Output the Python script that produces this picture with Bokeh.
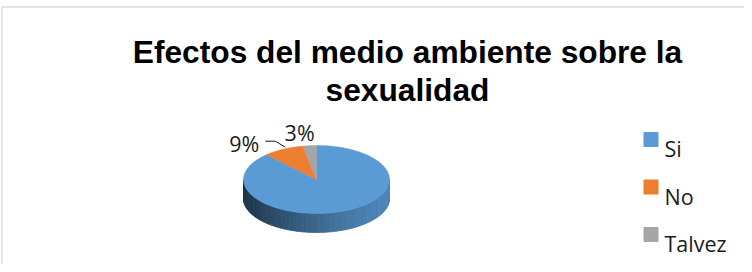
import numpy as np
from bokeh.plotting import figure
from bokeh.models import Range1d, Label, BoxAnnotation
from bokeh.embed import file_html
from bokeh.resources import INLINE

# ---- data ----
title_lines = ["Efectos del medio ambiente sobre la", "sexualidad"]
categories = ["Si", "No", "Talvez"]
percent = [88, 9, 3]
colors = ["#5B9BD5", "#ED7D31", "#A5A5A5"]

# ---- layout ----
W, H = 744, 264
p = figure(width=W, height=H, output_backend="svg", toolbar_location=None,
           x_range=Range1d(0, W), y_range=Range1d(0, H), min_border=0)
p.axis.visible = False
p.grid.visible = False
p.outline_line_color = None
p.background_fill_color = "white"
p.border_fill_color = "white"

# chart area border (only top and left visible in the window)
p.add_layout(BoxAnnotation(left=1.5, right=900, top=257.5, bottom=-100,
                           fill_alpha=0, line_color="#A6A6A6", line_width=2))

# title
for i, t in enumerate(title_lines):
    p.add_layout(Label(x=407, y=213 - 38 * i, text=t, text_align="center",
                       text_baseline="alphabetic", text_font="Liberation Sans",
                       text_font_style="bold", text_font_size="31.7px",
                       text_color="#000000"))

# pie geometry (screen-like data units)
cx, cy, rx, ry, depth = 316, 85, 73, 34, 19
vals = np.array(percent, dtype=float)
frac = vals / vals.sum()
cum = np.concatenate([[0], np.cumsum(frac)])
a_start = 90 - 360 * cum[:-1]
a_end = 90 - 360 * cum[1:]


def slice_of(angle_deg):
    d = ((90 - angle_deg) % 360) / 360.0
    return int(np.searchsorted(cum[1:], d, side="right").clip(0, len(vals) - 1))


def scale_hex(h, f):
    r, g, b = int(h[1:3], 16), int(h[3:5], 16), int(h[5:7], 16)
    return "#%02x%02x%02x" % tuple(int(max(0, min(255, c * f))) for c in (r, g, b))


def mix(c1, c2, t):
    a = [int(c1[i:i + 2], 16) for i in (1, 3, 5)]
    b = [int(c2[i:i + 2], 16) for i in (1, 3, 5)]
    return "#%02x%02x%02x" % tuple(int(round(a[k] + (b[k] - a[k]) * t)) for k in range(3))


# side (front rim) as gradient strips
n_strips = 90
edges = np.linspace(180, 360, n_strips + 1)
xs_side, ys_side, cs_side = [], [], []
for k in range(n_strips):
    a0, a1 = np.radians(edges[k]), np.radians(edges[k + 1])
    mid = (edges[k] + edges[k + 1]) / 2
    si = slice_of(mid)
    c_left = scale_hex(colors[si], 0.86)
    c_right = scale_hex(colors[si], 0.34)
    t = ((1 - np.cos(np.radians(mid))) / 2) ** 1.4
    angs = np.linspace(a0, a1, 4)
    tx = cx + rx * np.cos(angs)
    ty = cy + ry * np.sin(angs)
    xs_side.append(list(tx) + list(tx[::-1]))
    ys_side.append(list(ty) + list((ty - depth)[::-1]))
    cs_side.append(mix(c_left, c_right, t))
p.patches(xs_side, ys_side, fill_color=cs_side, line_color=cs_side, line_width=0.8)

# top face slices
for i in range(len(vals)):
    angs = np.radians(np.linspace(a_start[i], a_end[i], 120))
    xs = [cx] + list(cx + rx * np.cos(angs))
    ys = [cy] + list(cy + ry * np.sin(angs))
    p.patch(xs, ys, fill_color=colors[i], line_color=colors[i], line_width=0.5)

# data labels (only small slices are labelled in the reference)
label_font = "Open Sans"
for i in range(1, len(vals)):
    m = np.radians((a_start[i] + a_end[i]) / 2)
    ex, ey = cx + rx * np.cos(m), cy + ry * np.sin(m)
    txt = f"{int(percent[i])}%"
    if i == 1:
        x0, y0 = ex + 2, ey + 2
        p.line([x0, x0 - 10, x0 - 20], [y0, y0 + 6, y0 + 6], line_color="#1a1a1a", line_width=1)
        p.add_layout(Label(x=x0 - 26, y=y0 + 4, text=txt, text_align="right",
                           text_baseline="alphabetic", text_font=label_font,
                           text_font_size="21.5px", text_color="#1a1a1a"))
    else:
        p.add_layout(Label(x=ex - 10, y=ey + 13, text=txt, text_align="center",
                           text_baseline="alphabetic", text_font=label_font,
                           text_font_size="21.5px", text_color="#1a1a1a"))

# legend
for i, cat in enumerate(categories):
    base = 116 - 47.5 * i
    p.scatter([650.5], [base + 9], marker="square", size=14, fill_color=colors[i],
              line_color=colors[i])
    p.add_layout(Label(x=664, y=base, text=cat, text_align="left",
                       text_baseline="alphabetic", text_font=label_font,
                       text_font_size="21.5px", text_color="#1a1a1a"))

open("out.html", "w").write(file_html(p, INLINE))
